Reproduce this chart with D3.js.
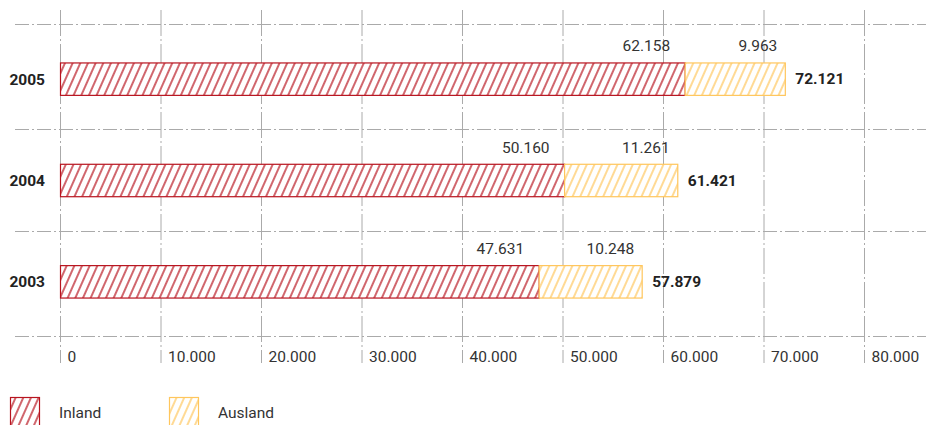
<!DOCTYPE html>
<html><head><meta charset="utf-8">
<script src="https://cdn.jsdelivr.net/npm/d3@7"></script>
<style>body{margin:0;background:#fff}svg{display:block;font-family:Roboto,sans-serif}</style>
</head><body>
<script>
const years = ["2005","2004","2003"];
const inland = [62158, 50160, 47631];
const ausland = [9963, 11261, 10248];
const totals = [72121, 61421, 57879];
const tickValues = [0,10000,20000,30000,40000,50000,60000,70000,80000];
const tickLabels = ["0","10.000","20.000","30.000","40.000","50.000","60.000","70.000","80.000"];
const fmt = v => d3.format(",")(v).replace(/,/g,".");

const W=926,H=425;
const svg=d3.select("body").append("svg").attr("width",W).attr("height",H);
const x=d3.scaleLinear().domain([0,80000]).range([60.5,864.5]);
const y=d3.scaleBand().domain(years).range([28,332]).paddingInner(0.68).paddingOuter(0.34);

const defs=svg.append("defs");
function hatch(id,color){
  const s=7;
  const p=defs.append("pattern").attr("id",id).attr("patternUnits","userSpaceOnUse")
    .attr("width",s).attr("height",s).attr("patternTransform","rotate(24)");
  p.append("rect").attr("width",s).attr("height",s).attr("fill","#fff");
  p.append("line").attr("x1",1).attr("y1",0).attr("x2",1).attr("y2",s)
    .attr("stroke",color).attr("stroke-width",1.3);
}
const cIn="#b8141f", cAus="#ffc65c";
hatch("hIn",cIn); hatch("hAus",cAus);

const grid="#aaa", dash="14,3,2,3";
const g=svg.append("g");
const hLines=[24, (y("2005")+y.bandwidth()+y("2004"))/2, (y("2004")+y.bandwidth()+y("2003"))/2, 336];
g.selectAll(".hl").data(hLines).join("line")
  .attr("x1",15).attr("x2",W).attr("y1",d=>Math.round(d)+0.5).attr("y2",d=>Math.round(d)+0.5)
  .attr("stroke",grid).attr("stroke-dasharray",dash);
g.selectAll(".vl").data(tickValues).join("line")
  .attr("x1",d=>x(d)).attr("x2",d=>x(d)).attr("y1",10).attr("y2",363)
  .attr("stroke",grid).attr("stroke-dasharray","26,3,2,3");

svg.selectAll(".tl").data(tickValues).join("text")
  .attr("x",d=>x(d)+7).attr("y",362).attr("font-size",15.5).attr("fill","#333")
  .text((d,i)=>tickLabels[i]);

const rows=svg.selectAll(".row").data(years).join("g");
rows.append("rect").attr("x",x(0)).attr("y",d=>y(d)+0.5)
  .attr("width",(d,i)=>x(inland[i])-x(0)).attr("height",y.bandwidth())
  .attr("fill","url(#hIn)").attr("stroke",cIn).attr("stroke-width",1.2);
rows.append("rect").attr("x",(d,i)=>x(inland[i])).attr("y",d=>y(d)+0.5)
  .attr("width",(d,i)=>x(inland[i]+ausland[i])-x(inland[i])).attr("height",y.bandwidth())
  .attr("fill","url(#hAus)").attr("stroke",cAus).attr("stroke-width",1.2);
rows.append("text").attr("x",(d,i)=>x(inland[i])-15).attr("y",d=>y(d)-11)
  .attr("text-anchor","end").attr("font-size",15.5).attr("fill","#333").text((d,i)=>fmt(inland[i]));
rows.append("text").attr("x",(d,i)=>x(inland[i]+ausland[i])-8).attr("y",d=>y(d)-11)
  .attr("text-anchor","end").attr("font-size",15.5).attr("fill","#333").text((d,i)=>fmt(ausland[i]));
rows.append("text").attr("x",(d,i)=>x(inland[i]+ausland[i])+10).attr("y",d=>y(d)+y.bandwidth()/2+5.5)
  .attr("font-size",15.5).attr("font-weight","bold").attr("fill","#222").text((d,i)=>fmt(totals[i]));
rows.append("text").attr("x",45).attr("y",d=>y(d)+y.bandwidth()/2+6)
  .attr("text-anchor","end").attr("font-size",15.5).attr("font-weight","bold").attr("fill","#222").text(d=>d);

const leg=[{n:"Inland",f:"url(#hIn)",s:cIn,x:10},{n:"Ausland",f:"url(#hAus)",s:cAus,x:169}];
const lg=svg.selectAll(".lg").data(leg).join("g");
lg.append("rect").attr("x",d=>d.x+0.5).attr("y",397.5).attr("width",29).attr("height",30)
  .attr("fill",d=>d.f).attr("stroke",d=>d.s).attr("stroke-width",1.2);
lg.append("text").attr("x",d=>d.x+49).attr("y",418).attr("font-size",15.5).attr("fill","#333").text(d=>d.n);
</script>
</body></html>
